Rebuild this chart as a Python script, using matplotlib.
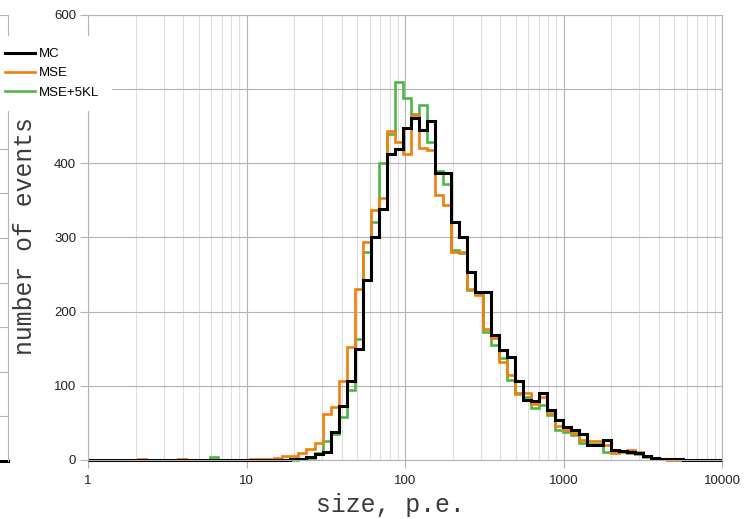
import numpy as np
import matplotlib
matplotlib.use("Agg")
import matplotlib.pyplot as plt
from matplotlib.lines import Line2D
from matplotlib.patches import Rectangle
from matplotlib.ticker import FixedLocator, NullFormatter

plt.rcParams['font.family'] = ['Liberation Sans', 'DejaVu Sans']

# log-uniform bins, ~20 per decade (edges)
n_bins = 80
bin_edges = np.clip(10 ** (-0.0366 + 0.05054 * np.arange(n_bins + 1)), 1, 10000)

# counts per bin
mc = [0, 0, 0, 0, 0, 0, 0, 0, 0, 0,
      0, 0, 0, 0, 0, 0, 0, 0, 0, 0,
      0, 0, 0, 0, 0.5, 0.5, 1, 1, 4, 8,
      11, 38, 73, 107, 150, 243, 301, 339, 412, 419,
      447, 461, 445, 457, 387, 387, 321, 300, 254, 227,
      227, 168, 148, 139, 106, 81, 79, 90, 68, 54,
      44, 40, 35, 20, 20, 27, 13, 12, 11, 9,
      5, 3, 2, 1, 1, 0.5, 0.5, 0.5, 0.5, 0.5]

mse = [0, 0, 0, 0, 0, 0, 0, 1.5, 0, 0,
       0, 0, 1.5, 0, 0, 0, 0, 0, 0, 0,
       0.5, 1, 1, 2, 3, 5, 6, 9, 15, 23,
       62, 72, 107, 153, 230, 294, 337, 353, 443, 429,
       413, 465, 420, 418, 357, 344, 281, 281, 231, 222,
       177, 164, 132, 115, 89, 90, 76, 85, 63, 46,
       40, 37, 27, 25, 25, 20, 9, 11, 13, 11,
       6, 2, 1, 0.5, 0.5, 0.5, 0.5, 0.5, 0.5, 0.5]

mse_kl = [0, 0, 0, 0, 0, 0, 0, 0, 0, 0,
          0, 0, 0, 0, 0, 0, 3.5, 0, 0, 0,
          0.5, 0.5, 0.5, 0.5, 0.5, 0.5, 0.5, 1, 3, 9,
          25, 35, 58, 94, 163, 281, 321, 400, 440, 510,
          488, 467, 478, 429, 390, 372, 283, 279, 229, 224,
          173, 155, 137, 108, 90, 85, 70, 74, 61, 40,
          38, 34, 23, 22, 22, 11, 12, 12, 10, 8,
          4, 2, 1, 0.5, 0.5, 0.5, 0.5, 0.5, 0.5, 0.5]

labels = ["MC", "MSE", "MSE+5KL"]
colors = ["#000000", "#f07f0e", "#4db848"]
x_ticks = [1, 10, 100, 1000, 10000]
y_ticks = [0, 100, 200, 300, 400, 500, 600]
# the 500 label sits under the legend in the original
y_ticklabels = ["0", "100", "200", "300", "400", "", "600"]

# clipped neighbour panel on the far left (just gridlines and a zero line)
prev_x = [0, 1]
prev_y = [0, 0]

W, H = 744, 519
grid_major = "#b3b3b3"
grid_minor = "#dedede"

fig = plt.figure(figsize=(W / 100, H / 100), dpi=100)

# left fragment
ax0 = fig.add_axes([-0.05, 1 - 461 / H, 0.05 + 8 / W, 446 / H])
ax0.set_xlim(0, 1)
ax0.set_ylim(0, 10)
ax0.set_yticks(range(11))
ax0.set_xticks([])
ax0.tick_params(length=0, labelleft=False)
ax0.grid(axis="y", color=grid_major, lw=0.8)
for s in ["left", "top", "bottom"]:
    ax0.spines[s].set_visible(False)
ax0.spines["right"].set_color(grid_major)
ax0.plot(prev_x, prev_y, color="black", lw=2.2, clip_on=False)

# main panel
ax = fig.add_axes([88 / W, 1 - 460 / H, (722 - 88) / W, (460 - 15) / H])
ax.set_xscale("log")
ax.set_xlim(1, 10000)
ax.set_ylim(0, 600)

ax.stairs(mse_kl, bin_edges, baseline=None, color=colors[2], lw=1.9, clip_on=False)
ax.stairs(mse, bin_edges, baseline=None, color=colors[1], lw=1.9, clip_on=False)
ax.stairs(mc, bin_edges, baseline=None, color=colors[0], lw=2.2, clip_on=False)

ax.xaxis.set_major_locator(FixedLocator(x_ticks))
ax.set_xticklabels([str(v) for v in x_ticks])
ax.xaxis.set_minor_locator(FixedLocator(
    [m * 10 ** e for e in range(4) for m in range(2, 10)]))
ax.xaxis.set_minor_formatter(NullFormatter())
ax.set_yticks(y_ticks)
ax.set_yticklabels(y_ticklabels)

ax.grid(which="major", color=grid_major, lw=0.8)
ax.grid(which="minor", axis="x", color=grid_minor, lw=0.8)
ax.set_axisbelow(True)
for s in ax.spines.values():
    s.set_color(grid_major)
    s.set_linewidth(0.8)

ax.tick_params(which="major", length=5.5, width=0.8, color=grid_major,
               labelsize=9.5, labelcolor="#222222")
ax.tick_params(axis="x", which="major", pad=5)
ax.tick_params(axis="y", which="major", pad=3)
ax.tick_params(which="minor", length=0)

fig.text(390 / W, 1 - 505 / H, "size, p.e.", ha="center", va="center",
         family="Liberation Mono", fontsize=17.8, color="#3a3a3a")
fig.text(25 / W, 1 - 236 / H, "number of events", ha="center", va="center",
         rotation=90, family="Liberation Mono", fontsize=17.8, color="#3a3a3a")

# legend sits on a white patch over the top-left corner
fig.add_artist(Rectangle((0, 1 - 111 / H), 112 / W, 75 / H,
                         transform=fig.transFigure, facecolor="white",
                         edgecolor="none", zorder=3))
handles = [Line2D([], [], color=colors[0], lw=2.2),
           Line2D([], [], color=colors[1], lw=1.9),
           Line2D([], [], color=colors[2], lw=1.9)]
leg = fig.legend(handles, labels, loc="upper left",
                 bbox_to_anchor=(5 / W, 1 - 48 / H), frameon=False,
                 fontsize=9.5, handlelength=2.3, handletextpad=0.3,
                 labelspacing=0.53, borderpad=0, borderaxespad=0)
leg.set_zorder(5)

fig.savefig("out.png", dpi=100)
